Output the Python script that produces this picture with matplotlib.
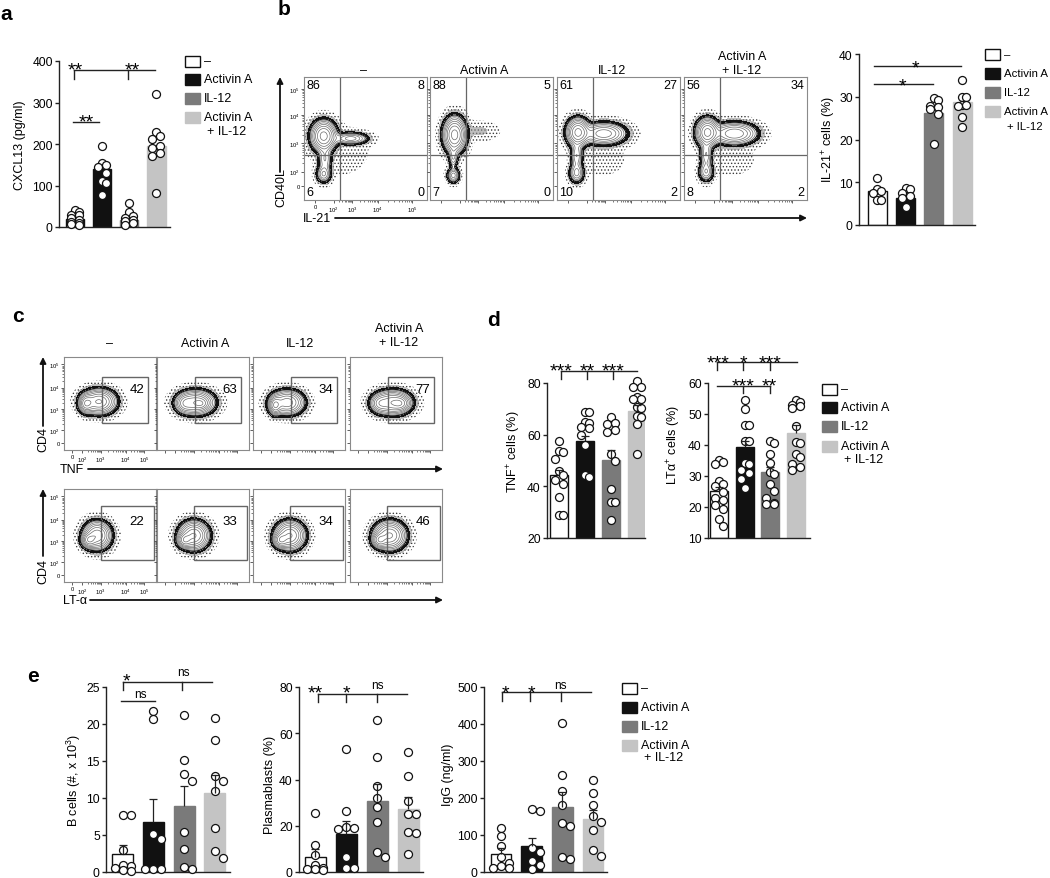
import numpy as np
import matplotlib
matplotlib.use('Agg')
import matplotlib.pyplot as plt
from matplotlib.patches import Rectangle

plt.rcParams['font.family'] = ['Liberation Sans', 'DejaVu Sans']
plt.rcParams['mathtext.fontset'] = 'custom'
plt.rcParams['mathtext.rm'] = 'Liberation Sans'
plt.rcParams['mathtext.it'] = 'Liberation Sans:italic'
plt.rcParams['mathtext.bf'] = 'Liberation Sans:bold'
plt.rcParams['hatch.color'] = '#3a3a3a'
plt.rcParams['hatch.linewidth'] = 0.6

# ---------------------------------------------------------------- data
groups = ['–', 'Activin A', 'IL-12', 'Activin A\n+ IL-12']
legend_labels = ['–', 'Activin A', 'IL-12', 'Activin A']
bar_colors = ['white', '#111111', '#7a7a7a', '#c4c4c4']
bar_edges = ['#111111', '#111111', '#7a7a7a', '#c4c4c4']

# panel a : CXCL13 (pg/ml)
cxcl13_mean = [20, 140, 18, 195]
cxcl13_pts = [[42, 35, 30, 28, 22, 18, 12, 10, 8, 5],
              [195, 155, 150, 145, 130, 110, 105, 78],
              [58, 35, 26, 22, 18, 14, 10, 6],
              [320, 229, 220, 211, 195, 191, 179, 171, 83]]

# panel b : IL-21+ cells (%)
il21_mean = [8.0, 6.4, 26.2, 28.7]
il21_pts = [[11.1, 8.4, 8.0, 7.6, 5.8, 5.8],
            [8.75, 8.4, 7.6, 6.8, 6.2, 4.1],
            [29.8, 29.2, 27.9, 27.5, 27.1, 25.9, 18.9],
            [34.0, 30.0, 30.0, 28.0, 28.0, 27.9, 25.2, 23.0]]

# panel b : flow quadrant percentages (UL, UR, LL, LR)
b_quadrants = [[86, 8, 6, 0], [88, 5, 7, 0], [61, 27, 10, 2], [56, 34, 8, 2]]
b_tick_labels = ['0', '10$^2$', '10$^3$', '10$^4$', '10$^5$']

# panel c : gated percentages
c_tnf_pct = [42, 63, 34, 77]
c_lta_pct = [22, 33, 34, 46]

# panel d
tnf_mean = [44.5, 57.7, 50.2, 69.3]
tnf_err = [46.5, 59.6, 54.0, 71.6]
tnf_pts = [[57.7, 53.5, 53.2, 50.5, 46, 44.5, 42.5, 41, 36, 29, 29],
           [68.6, 68.6, 64.8, 64.4, 63, 62.5, 60, 56, 44.2, 43.5],
           [66.7, 64.4, 64, 62, 61, 52.5, 50, 39, 33.8, 33.8, 27],
           [80.6, 78.3, 78.3, 74.7, 73.8, 73.8, 70.6, 70.2, 67.4, 66.7, 64, 52.5]]
lta_mean = [25.1, 39.2, 31.3, 44.0]
lta_err = [26.4, 41.3, 32.9, 46.4]
lta_pts = [[35.2, 34.5, 34, 28.4, 27.5, 26.7, 25, 23, 22.4, 20.8, 19.2, 16, 14],
           [54.6, 51.6, 46.5, 46.5, 41.3, 41.3, 34.3, 33.8, 32, 31, 29, 26.2],
           [41.3, 40.8, 37, 34.3, 31.3, 30.5, 27.3, 25.1, 23, 21.3, 21, 21],
           [54.5, 54, 53, 52.5, 52, 46, 41, 40.5, 37, 36, 34, 33, 32]]

# panel e
bcell_mean = [2.5, 6.7, 8.9, 10.7]
bcell_err = [3.7, 9.9, 11.6, 13.1]
bcell_pts = [[7.7, 7.7, 3.0, 1.0, 0.8, 0.5, 0.3, 0.1],
             [21.8, 20.7, 5.2, 4.4, 0.4, 0.4, 0.4],
             [21.2, 15.1, 13.2, 12.3, 5.4, 3.1, 0.7, 0.45],
             [20.8, 17.8, 13.0, 12.3, 10.9, 5.9, 2.8, 1.9]]
pb_mean = [6.5, 16.4, 30.7, 27.2]
pb_err = [9.8, 22.2, 38.0, 32.4]
pb_pts = [[25.6, 11.8, 7.2, 2.9, 1.7, 1.4, 1.2, 1.0],
          [53, 26.4, 19.5, 19, 18.5, 6.5, 1.7, 1.7],
          [65.7, 49.7, 37.2, 32, 28, 21.6, 8.6, 6.5],
          [51.9, 41.6, 30.7, 25, 25, 17.3, 16.8, 7.8]]
igg_mean = [49, 70, 175, 143]
igg_err = [65, 91.6, 217, 168.8]
igg_pts = [[120, 98, 70, 40, 25, 15, 12, 10],
           [170, 165, 65, 55, 30, 18, 8],
           [402, 263, 220, 180, 132, 124, 40, 36],
           [248, 214, 180, 151, 135, 113, 60, 43]]

# flow-cytometry population shapes: (cx, cy, sx, sy, weight)
b_flow_pops = [
    [(0.16, 0.52, 0.05, 0.06, 1.0), (0.38, 0.50, 0.07, 0.025, 0.35), (0.16, 0.21, 0.03, 0.035, 0.3),
     (0.17, 0.33, 0.03, 0.06, 0.2), (0.30, 0.40, 0.15, 0.13, 0.006)],
    [(0.20, 0.53, 0.045, 0.07, 1.0), (0.19, 0.20, 0.025, 0.03, 0.35), (0.19, 0.35, 0.02, 0.05, 0.2),
     (0.40, 0.56, 0.08, 0.04, 0.02)],
    [(0.17, 0.55, 0.045, 0.055, 1.0), (0.38, 0.54, 0.09, 0.045, 0.55), (0.16, 0.22, 0.03, 0.04, 0.35),
     (0.16, 0.36, 0.025, 0.06, 0.3), (0.36, 0.33, 0.10, 0.07, 0.012)],
    [(0.19, 0.55, 0.045, 0.055, 1.0), (0.41, 0.54, 0.09, 0.045, 0.6), (0.18, 0.23, 0.03, 0.04, 0.3),
     (0.18, 0.37, 0.025, 0.06, 0.3), (0.38, 0.33, 0.10, 0.07, 0.012)],
]
c_tnf_pops = [
    [(0.38, 0.52, 0.09, 0.065, 1.0), (0.24, 0.50, 0.04, 0.05, 0.8)],
    [(0.42, 0.51, 0.10, 0.065, 1.0), (0.30, 0.50, 0.05, 0.05, 0.4), (0.48, 0.50, 0.04, 0.03, 0.4)],
    [(0.37, 0.51, 0.09, 0.065, 1.0), (0.24, 0.48, 0.035, 0.05, 1.0)],
    [(0.46, 0.51, 0.10, 0.065, 1.0), (0.55, 0.50, 0.05, 0.04, 0.5), (0.32, 0.50, 0.05, 0.05, 0.4)],
]
c_lta_pops = [
    [(0.36, 0.50, 0.075, 0.075, 1.0), (0.27, 0.45, 0.04, 0.04, 0.8)],
    [(0.40, 0.50, 0.08, 0.075, 1.0), (0.30, 0.45, 0.04, 0.04, 0.7)],
    [(0.40, 0.50, 0.08, 0.075, 1.0), (0.30, 0.45, 0.04, 0.04, 0.7)],
    [(0.43, 0.50, 0.085, 0.075, 1.0), (0.32, 0.45, 0.04, 0.04, 0.7)],
]

# ---------------------------------------------------------------- figure
W, H = 1050, 879
PX = 100 / 72.0
fig = plt.figure(figsize=(W / 100, H / 100), dpi=100)

ov = fig.add_axes([0, 0, 1, 1])
ov.set_xlim(0, W)
ov.set_ylim(H, 0)
ov.axis('off')
ov.patch.set_alpha(0)
ov.set_zorder(20)


def frect(left, top, right, bottom):
    return [left / W, 1 - bottom / H, (right - left) / W, (bottom - top) / H]


def swarm(vals, sx, sy, d, maxoff):
    vals = np.asarray(vals, float)
    order = np.argsort(-vals)
    step = d * 0.5
    cands = [0.0]
    k = 1
    while k * step <= maxoff * sx + 1e-9:
        cands += [k * step, -k * step]
        k += 1
    placed = []
    offs = np.zeros(len(vals))
    for i in order:
        y = vals[i] * sy
        best, bestpen = 0.0, 1e9
        for c in cands:
            pen = 0.0
            for (px, py) in placed:
                dd = np.hypot(c - px, y - py)
                if dd < d * 0.98:
                    pen += d - dd
            if pen == 0:
                best = c
                break
            if pen < bestpen:
                bestpen, best = pen, c
        placed.append((best, y))
        offs[i] = best / sx
    return offs


def bar_panel(box, means, pts, ylim, yticks, xlim, width, errs=None, d=8.0):
    left, top, right, bottom = box
    ax = fig.add_axes(frect(left, top, right, bottom))
    ax.set_xlim(*xlim)
    ax.set_ylim(*ylim)
    xs = np.arange(4)
    means = np.asarray(means, float)
    ax.bar(xs, means - ylim[0], width, bottom=ylim[0], color=bar_colors, edgecolor=bar_edges,
           linewidth=1.0, zorder=2)
    sx = (right - left) / (xlim[1] - xlim[0])
    sy = (bottom - top) / (ylim[1] - ylim[0])
    for i, p in enumerate(pts):
        off = swarm(p, sx, sy, d, width * 0.42)
        ax.scatter(i + off, p, s=(d * 0.72) ** 2, facecolor='white', edgecolor='#111111',
                   linewidth=0.9, zorder=4, clip_on=False)
    if errs is not None:
        errs = np.asarray(errs, float)
        cw = 4.0 / sx
        ax.vlines(xs, means, errs, color='#222222', lw=0.9, zorder=5)
        ax.hlines(errs, xs - cw, xs + cw, color='#222222', lw=0.9, zorder=5)
    for s in ['top', 'right']:
        ax.spines[s].set_visible(False)
    for s in ['left', 'bottom']:
        ax.spines[s].set_color('#222222')
        ax.spines[s].set_linewidth(1.0)
    ax.set_xticks([])
    ax.set_yticks(yticks)
    ax.tick_params(axis='y', length=3, width=1.0, color='#222222', labelsize=8.7, pad=1.5)
    ax.patch.set_alpha(0)
    return ax


gx = np.linspace(0, 1, 300)
GX, GY = np.meshgrid(gx, gx)


def density(pops):
    D = np.zeros_like(GX)
    for cx, cy, sx, sy, w in pops:
        D += w * np.exp(-0.5 * (((GX - cx) / sx) ** 2 + ((GY - cy) / sy) ** 2))
    return D / D.max()


def minor_positions(major):
    out = []
    for a, b in zip(major[1:-1], major[2:]):
        for k in range(2, 10):
            out.append(a + (b - a) * np.log10(k))
    return out


def flow_axes(left, top, w, h, pops, xt, yt, show_labels):
    ax = fig.add_axes(frect(left, top, left + w, top + h))
    ax.set_xlim(0, 1)
    ax.set_ylim(0, 1)
    D = density(pops)
    ax.contourf(GX, GY, D, levels=[0.002, 0.03], colors='none', hatches=['.....'])
    ax.contourf(GX, GY, D, levels=[0.015, 0.035], colors=['#8c8c8c'], alpha=0.55)
    ax.contourf(GX, GY, D, levels=[0.035, 0.07], colors=['#111111'])
    ax.contourf(GX, GY, D, levels=[0.07, 1.01], colors=['white'])
    ax.contour(GX, GY, D, levels=np.geomspace(0.1, 0.85, 7), colors='#6a6a6a', linewidths=0.5)
    ax.contour(GX, GY, D, levels=[0.07], colors='#111111', linewidths=0.9)
    for s in ax.spines.values():
        s.set_color('#8a8a8a')
        s.set_linewidth(0.8)
    ax.set_xticks(xt)
    ax.set_yticks(yt)
    ax.set_xticks(minor_positions(xt), minor=True)
    ax.set_yticks(minor_positions(yt), minor=True)
    ax.tick_params(which='major', length=2.2, width=0.6, color='#444444', direction='out', pad=1)
    ax.tick_params(which='minor', length=1.2, width=0.5, color='#444444', direction='out')
    if show_labels:
        ax.set_xticklabels(b_tick_labels, fontsize=4.2)
        ax.set_yticklabels(b_tick_labels, fontsize=4.2)
    else:
        ax.set_xticklabels([])
        ax.set_yticklabels([])
    return ax


def star(x, yc, s):
    if s == 'ns':
        fs = 8.5
        ov.text(x, yc + 0.26 * fs * PX, s, ha='center', va='baseline', fontsize=fs)
    else:
        fs = 14
        ov.text(x, yc + 0.60 * fs * PX, s, ha='center', va='baseline', fontsize=fs)


def bracket(x0, x1, y, ticks, yend):
    ov.plot([x0, x1], [y, y], color='#222222', lw=1.0)
    for t in ticks:
        ov.plot([t, t], [y, yend], color='#222222', lw=1.0)


def legend(x, ys, y2, fs=9):
    for i in range(4):
        ov.add_patch(Rectangle((x, ys[i] - 5.5), 15, 11, fc=bar_colors[i],
                               ec='#111111' if i == 0 else bar_colors[i], lw=1.0))
        ov.text(x + 19, ys[i], legend_labels[i], va='center', ha='left', fontsize=fs)
    ov.text(x + 22, y2, '+ IL-12', va='center', ha='left', fontsize=fs)


def arrow(x0, y0, x1, y1):
    ov.annotate('', xy=(x1, y1), xytext=(x0, y0),
                arrowprops=dict(arrowstyle='-|>', lw=1.3, color='#111111', mutation_scale=9,
                                shrinkA=0, shrinkB=0))


def panel_letter(x, y, s):
    ov.text(x, y, s, fontsize=15, fontweight='bold', ha='left', va='baseline')


# ---------------------------------------------------------------- panel a
panel_letter(0, 20, 'a')
bar_panel((59, 62, 170, 228), cxcl13_mean, cxcl13_pts, (0, 400), [0, 100, 200, 300, 400],
          (-0.6, 3.5), 0.67)
ov.text(20, 145, 'CXCL13 (pg/ml)', rotation=90, ha='center', va='center', fontsize=9)
star(75, 64, '**')
star(132, 64, '**')
bracket(74, 155, 71, [74, 128], 80)
star(86, 116, '**')
bracket(73, 99, 123, [], 123)
legend(185, [62, 80, 99, 118], 132)

# ---------------------------------------------------------------- panel b
panel_letter(278, 15, 'b')
b_lefts = [304, 430, 557, 684]
b_titles_x = [363, 484, 612, 742]
b_xt = [0.09, 0.24, 0.39, 0.60, 0.88]
b_yt = [0.11, 0.23, 0.46, 0.69, 0.90]
for i in range(4):
    ax = flow_axes(b_lefts[i], 78, 123, 123, b_flow_pops[i], b_xt, b_yt, i == 0)
    ax.axvline(0.29, color='#666666', lw=0.9)
    ax.axhline(0.366, color='#666666', lw=0.9)
    ul, ur, ll, lr = b_quadrants[i]
    ax.text(0.02, 0.985, str(ul), transform=ax.transAxes, ha='left', va='top', fontsize=9)
    ax.text(0.98, 0.985, str(ur), transform=ax.transAxes, ha='right', va='top', fontsize=9)
    ax.text(0.02, 0.015, str(ll), transform=ax.transAxes, ha='left', va='bottom', fontsize=9)
    ax.text(0.98, 0.015, str(lr), transform=ax.transAxes, ha='right', va='bottom', fontsize=9)
for i, t in enumerate(groups):
    if '\n' in t:
        a1, a2 = t.split('\n')
        ov.text(b_titles_x[i], 57, a1, ha='center', va='center', fontsize=9)
        ov.text(b_titles_x[i], 71, a2, ha='center', va='center', fontsize=9)
    else:
        ov.text(b_titles_x[i], 71, t, ha='center', va='center', fontsize=9)
arrow(280, 173, 280, 78)
ov.text(281, 188, 'CD40L', rotation=90, ha='center', va='center', fontsize=9)
ov.text(317, 219, 'IL-21', ha='center', va='center', fontsize=9)
arrow(335, 219, 807, 219)

bar_panel((859, 55, 975, 226), il21_mean, il21_pts, (0, 40), [0, 10, 20, 30, 40],
          (-0.65, 3.45), 0.67)
ov.text(829, 140, 'IL-21$^{+}$ cells (%)', rotation=90, ha='center', va='center', fontsize=9)
star(915, 62, '*')
bracket(874, 961, 67, [], 67)
star(902, 80, '*')
bracket(874, 933, 85, [], 85)
legend(985, [55, 74, 93, 112], 127, fs=8.2)

# ---------------------------------------------------------------- panel c
panel_letter(12, 322, 'c')
c_lefts = [64, 157, 253, 350]
c_titles_x = [110, 205, 300, 399]
c_xt = [0.09, 0.20, 0.40, 0.67, 0.87]
c_yt = [0.08, 0.21, 0.44, 0.67, 0.92]
for row, (top, pops, pcts, gate) in enumerate([(358, c_tnf_pops, c_tnf_pct, (0.41, 0.91, 0.29, 0.78)),
                                               (490, c_lta_pops, c_lta_pct, (0.40, 0.98, 0.24, 0.82))]):
    for i in range(4):
        ax = flow_axes(c_lefts[i], top, 92, 93, pops[i], c_xt, c_yt, i == 0)
        g0, g1, h0, h1 = gate
        ax.add_patch(Rectangle((g0, h0), g1 - g0, h1 - h0, fill=False, ec='#666666', lw=1.0))
        ax.text(0.79, 0.66, str(pcts[i]), transform=ax.transAxes, ha='center', va='center',
                fontsize=9.5)
for i, t in enumerate(groups):
    if '\n' in t:
        a1, a2 = t.split('\n')
        ov.text(c_titles_x[i], 329, a1, ha='center', va='center', fontsize=9)
        ov.text(c_titles_x[i], 343, a2, ha='center', va='center', fontsize=9)
    else:
        ov.text(c_titles_x[i], 344, t, ha='center', va='center', fontsize=9)
arrow(43, 427, 43, 358)
ov.text(43, 440, 'CD4', rotation=90, ha='center', va='center', fontsize=9)
ov.text(72, 470, 'TNF', ha='center', va='center', fontsize=9)
arrow(88, 470, 443, 470)
arrow(43, 557, 43, 490)
ov.text(43, 572, 'CD4', rotation=90, ha='center', va='center', fontsize=9)
ov.text(75, 601, 'LT-α', ha='center', va='center', fontsize=9)
arrow(90, 601, 443, 601)

# ---------------------------------------------------------------- panel d
panel_letter(487, 326, 'd')
bar_panel((547, 384, 645, 539), tnf_mean, tnf_pts, (20, 80), [20, 40, 60, 80],
          (-0.46, 3.31), 0.69, errs=tnf_err)
ov.text(514, 452, 'TNF$^{+}$ cells (%)', rotation=90, ha='center', va='center', fontsize=9)
for x, s in zip([561, 587, 613], ['***', '**', '***']):
    star(x, 365, s)
bracket(561, 637, 372, [561, 587, 613], 380)

bar_panel((708, 384, 810, 539), lta_mean, lta_pts, (10, 60), [10, 20, 30, 40, 50, 60],
          (-0.43, 3.54), 0.7, errs=lta_err)
ov.text(674, 445, 'LTα$^{+}$ cells (%)', rotation=90, ha='center', va='center', fontsize=9)
for x, s in zip([718, 743, 770], ['***', '*', '***']):
    star(x, 357, s)
bracket(717, 797, 363, [717, 743, 770], 371)
for x, s in zip([743, 769], ['***', '**']):
    star(x, 380, s)
bracket(717, 770, 387, [743, 770], 394)
legend(822, [390, 408, 427, 447], 460)

# ---------------------------------------------------------------- panel e
panel_letter(27, 682, 'e')
bar_panel((106, 688, 230, 873), bcell_mean, bcell_pts, (0, 25), [0, 5, 10, 15, 20, 25],
          (-0.54, 3.49), 0.68, errs=bcell_err)
ov.text(74, 781, 'B cells (#, x 10$^{3}$)', rotation=90, ha='center', va='center', fontsize=9)
star(126, 675, '*')
star(183, 673, 'ns')
bracket(123, 212, 683, [123, 182], 691)
star(140, 695, 'ns')
bracket(121, 155, 702, [], 702)

bar_panel((299, 688, 423, 873), pb_mean, pb_pts, (0, 80), [0, 20, 40, 60, 80],
          (-0.53, 3.47), 0.66, errs=pb_err)
ov.text(270, 785, 'Plasmablasts (%)', rotation=90, ha='center', va='center', fontsize=9)
star(315, 687, '**')
star(346, 687, '*')
star(377, 686, 'ns')
bracket(318, 407, 695, [318, 346, 377], 703)

bar_panel((484, 688, 607, 873), igg_mean, igg_pts, (0, 500), [0, 100, 200, 300, 400, 500],
          (-0.55, 3.45), 0.67, errs=igg_err)
ov.text(448, 775, 'IgG (ng/ml)', rotation=90, ha='center', va='center', fontsize=9)
star(505, 687, '*')
star(531, 687, '*')
star(560, 686, 'ns')
bracket(502, 591, 693, [502, 530, 561], 702)
legend(622, [689, 708, 727, 746], 758)

fig.savefig('out.png', dpi=100)
